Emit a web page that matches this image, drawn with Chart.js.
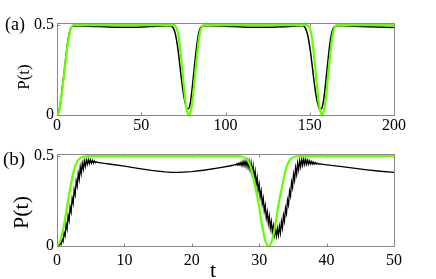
<!DOCTYPE html>
<html><head><meta charset="utf-8">
<script src="https://cdn.jsdelivr.net/npm/chart.js@4.4.1/dist/chart.umd.min.js"></script>
<style>
html,body{margin:0;padding:0;background:#fff;width:436px;height:279px;overflow:hidden}
#ca{position:absolute;left:0;top:0}
#cb{position:absolute;left:0;top:140px}
</style></head><body>
<canvas id="ca" width="436" height="140"></canvas>
<canvas id="cb" width="436" height="139"></canvas>
<script>
// ---------- Panel (a) ----------
const xTicksA = [0, 50, 100, 150, 200];
const yTicks = [0, 0.5];
const tBlackA = [0,1,2,3,4,5,6,7,8,9,10,15,25,35,45,55,65,67,68,
  69,70,71,72,73,74,75,76,77,78,79,80,81,82,83,84,85,86,87,
  90,100,110,120,130,140,145,146,
  147,148,149,150,151,152,153,154,155,156,157,158,159,160,161,162,163,164,165,166,
  170,180,190,200];
const blackA = [0,0.017,0.065,0.14,0.22,0.3,0.38,0.44,0.478,0.492,0.496,0.495,0.492,0.489,0.489,0.492,0.497,0.497,0.495,
  0.485,0.46,0.415,0.35,0.27,0.19,0.12,0.07,0.04,0.035,0.06,0.13,0.22,0.31,0.39,0.45,0.482,0.494,0.497,
  0.497,0.494,0.49,0.488,0.49,0.494,0.497,0.496,
  0.49,0.47,0.435,0.38,0.31,0.23,0.155,0.095,0.055,0.033,0.035,0.07,0.14,0.23,0.32,0.4,0.455,0.483,0.494,0.497,
  0.496,0.493,0.49,0.487];
const tGreenA = [0,1,2,3,4,5,6,7,8,9,10,
  69.3,70.3,71.3,72.3,73.3,74.3,75.3,76.3,77.3,78.3,79.3,80.3,81.3,82.3,83.3,84.3,85.3,86.3,87.3,
  148.3,149.3,150.3,151.3,152.3,153.3,154.3,155.3,156.3,157.3,158.3,159.3,160.3,161.3,162.3,163.3,164.3,165.3,166.3,
  200];
const greenA = [0,0.015,0.06,0.13,0.21,0.29,0.37,0.43,0.475,0.495,0.5,
  0.5,0.495,0.475,0.43,0.35,0.26,0.16,0.07,0.02,0,0.02,0.07,0.16,0.26,0.35,0.43,0.475,0.495,0.5,
  0.5,0.495,0.475,0.43,0.35,0.26,0.16,0.07,0.02,0,0.02,0.07,0.16,0.26,0.35,0.43,0.475,0.495,0.5,
  0.5];

// ---------- Panel (b) ----------
const xTicksB = [0, 10, 20, 30, 40, 50];
const tBlackB = [0,0.15,0.3,0.45,0.6,0.75,0.9,1.05,1.2,1.35,1.5,1.65,1.8,1.95,2.1,2.25,2.4,2.55,2.7,2.85,3,3.15,3.3,3.45,3.6,3.75,3.9,4.05,4.2,4.35,4.5,4.65,4.8,4.95,5.1,5.25,5.4,5.55,5.7,5.85,6,
  7,8,10,12,14,16,17,18,20,22,24,26,
  26.4,26.55,26.7,26.85,27,27.15,27.3,27.45,27.6,27.75,27.9,28.05,28.2,28.35,28.5,28.65,28.8,28.95,29.1,29.25,29.4,29.55,29.7,29.85,30,30.15,30.3,30.45,30.6,30.75,30.9,31.05,31.2,31.35,31.5,31.65,31.8,31.95,32.1,32.25,32.4,32.55,32.7,32.85,33,33.15,33.3,33.45,33.6,33.75,33.9,34.05,34.2,34.35,34.5,34.65,34.8,34.95,35.1,35.25,35.4,35.55,35.7,35.85,36,36.15,36.3,36.45,36.6,36.75,36.9,37.05,37.2,37.35,37.5,37.65,37.8,37.95,38.1,38.25,38.4,38.55,38.7,38.85,39,
  40,42,44,46,48,50];
const blackB = [0,0.002,0.003,0.015,0.008,0.038,0.025,0.075,0.056,0.123,0.094,0.170,0.142,0.218,0.190,0.266,0.238,0.314,0.286,0.362,0.334,0.404,0.370,0.440,0.403,0.460,0.427,0.474,0.443,0.479,0.455,0.481,0.459,0.480,0.461,0.477,0.462,0.474,0.464,0.469,0.465,
  0.46,0.455,0.444,0.432,0.421,0.413,0.41,0.41,0.414,0.423,0.435,0.448,
  0.454,0.450,0.458,0.450,0.462,0.450,0.466,0.448,0.470,0.447,0.472,0.444,0.475,0.437,0.472,0.425,0.463,0.406,0.446,0.379,0.416,0.346,0.381,0.310,0.344,0.273,0.306,0.234,0.266,0.194,0.226,0.156,0.190,0.126,0.166,0.099,0.136,0.074,0.113,0.060,0.097,0.055,0.097,0.060,0.110,0.072,0.136,0.101,0.171,0.139,0.211,0.181,0.256,0.229,0.306,0.279,0.356,0.326,0.401,0.366,0.436,0.399,0.461,0.424,0.475,0.441,0.482,0.450,0.483,0.454,0.481,0.455,0.478,0.456,0.474,0.456,0.470,0.456,0.467,0.456,0.464,0.456,0.460,0.4565,0.457,
  0.452,0.443,0.433,0.424,0.416,0.41];
const tGreenB = [0,0.5,1,1.5,2,2.5,3,3.5,4,4.5,
  26.9,27.4,27.9,28.4,28.9,29.4,29.9,30.4,30.9,31.4,31.9,32.4,32.9,33.4,33.9,34.4,34.9,35.4,35.9,
  50];
const greenB = [0,0.03,0.11,0.22,0.33,0.42,0.47,0.49,0.498,0.5,
  0.5,0.498,0.49,0.47,0.42,0.33,0.24,0.12,0.03,0,0.03,0.12,0.24,0.33,0.42,0.47,0.49,0.498,0.5,
  0.5];

const FONT = '"Liberation Serif", "Times New Roman", serif';
const GREEN = '#66ff00';

function pts(ts, vs){ return ts.map((t,i)=>({x:t, y:vs[i]})); }

function framePlugin(o){
  return {
    id: 'frame',
    beforeDatasetsDraw(chart){
      const {ctx, chartArea:a, scales:{x, y}} = chart;
      ctx.save();
      ctx.strokeStyle = '#8a8a8a'; ctx.lineWidth = 1;
      const L = Math.round(a.left)+0.5, R = Math.round(a.right)+0.5, T = Math.round(a.top)+0.5, B = Math.round(a.bottom)+0.5;
      ctx.strokeRect(L, T, R-L, B-T);
      ctx.beginPath();
      x.ticks.forEach(t=>{ const p = Math.round(x.getPixelForValue(t.value))+0.5;
        ctx.moveTo(p,B); ctx.lineTo(p,B-o.tl); ctx.moveTo(p,T); ctx.lineTo(p,T+o.tl); });
      y.ticks.forEach(t=>{ const p = Math.round(y.getPixelForValue(t.value))+0.5;
        ctx.moveTo(L,p); ctx.lineTo(L+o.tl,p); ctx.moveTo(R,p); ctx.lineTo(R-o.tl,p); });
      ctx.stroke();
      ctx.restore();
    },
    afterDraw(chart){
      const ctx = chart.ctx;
      ctx.save();
      ctx.fillStyle = '#000';
      o.texts.forEach(tx=>{
        ctx.save();
        ctx.font = tx.size + 'px ' + FONT;
        ctx.textAlign = 'center';
        ctx.textBaseline = tx.base || 'middle';
        ctx.translate(tx.x, tx.y);
        if (tx.rot) ctx.rotate(tx.rot);
        ctx.fillText(tx.text, 0, 0);
        ctx.restore();
      });
      ctx.restore();
    }
  };
}

function makeChart(id, cfg){
  return new Chart(document.getElementById(id), {
    type: 'line',
    data: { datasets: [
      { data: pts(cfg.tg, cfg.g), borderColor: GREEN, borderWidth: 2.2, pointRadius: 0, cubicInterpolationMode: 'monotone', fill: false },
      { data: pts(cfg.tb, cfg.b), borderColor: '#000', borderWidth: cfg.bw, pointRadius: 0,
        cubicInterpolationMode: cfg.blackMode, tension: 0, fill: false }
    ]},
    options: {
      responsive: false, animation: false, devicePixelRatio: 1,
      layout: { padding: { left: 0, top: cfg.top, right: 42, bottom: 0 } },
      plugins: { legend: { display: false }, tooltip: { enabled: false } },
      scales: {
        x: {
          type: 'linear', min: cfg.xTicks[0], max: cfg.xTicks[cfg.xTicks.length-1],
          grid: { display: false, drawTicks: false }, border: { display: false },
          afterBuildTicks: s => { s.ticks = cfg.xTicks.map(v=>({value:v})); },
          afterFit: s => { s.height = cfg.xh; },
          ticks: { color: '#000', font: { family: FONT, size: 16 }, padding: cfg.xpad, maxRotation: 0, autoSkip: false,
                   callback: v => String(v) }
        },
        y: {
          min: 0, max: 0.512,
          grid: { display: false, drawTicks: false }, border: { display: false },
          afterBuildTicks: s => { s.ticks = yTicks.map(v=>({value:v})); },
          afterFit: s => { s.width = 57; },
          ticks: { color: '#000', font: { family: FONT, size: 16 }, padding: 3,
                   callback: v => (v === 0 ? '0' : '0.5') }
        }
      }
    },
    plugins: [framePlugin({ tl: 3, texts: cfg.texts })]
  });
}

makeChart('ca', { tg: tGreenA, g: greenA, tb: tBlackA, b: blackA, bw: 1.5, blackMode: 'monotone', top: 23, xh: 25, xpad: 1, xTicks: xTicksA,
  texts: [ { text: '(a)', x: 15, y: 25.5, size: 18 },
           { text: 'P(t)', x: 25, y: 77, size: 17, rot: -Math.PI/2 } ] });

makeChart('cb', { tg: tGreenB, g: greenB, tb: tBlackB, b: blackB, bw: 1.3, blackMode: 'default', top: 14, xh: 33, xpad: 5, xTicks: xTicksB,
  texts: [ { text: '(b)', x: 14, y: 20, size: 19 },
           { text: 'P(t)', x: 22.5, y: 72.5, size: 22, rot: -Math.PI/2 },
           { text: 't', x: 213, y: 137, size: 22, base: 'alphabetic' } ] });
</script>
</body></html>
